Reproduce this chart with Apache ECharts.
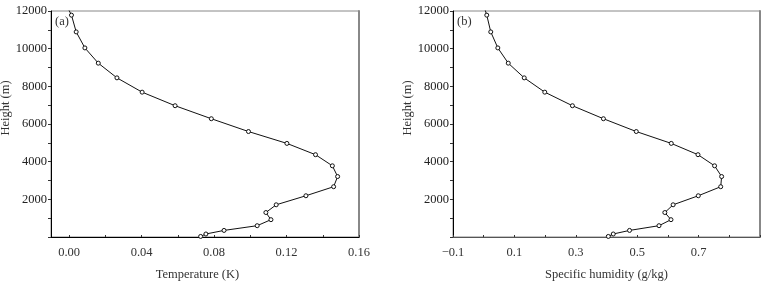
<!DOCTYPE html>
<html>
<head>
<meta charset="utf-8">
<script src="https://cdn.jsdelivr.net/npm/echarts@6/dist/echarts.min.js"></script>
<style>html,body{margin:0;padding:0;background:#fff}#c{width:764px;height:282px}</style>
</head>
<body>
<div id="c"></div>
<script>
// Heights of model levels (m)
var heightsA = [30, 160, 350, 600, 920, 1300, 1710, 2190, 2670, 3210, 3780, 4370, 4970, 5600, 6280, 6970, 7690, 8450, 9230, 10040, 10890, 11780, 12600];
var temperature = [0.0726, 0.0755, 0.0855, 0.1038, 0.1114, 0.1086, 0.1143, 0.1307, 0.1460, 0.1482, 0.1453, 0.1360, 0.1202, 0.0990, 0.0785, 0.0585, 0.0403, 0.0264, 0.0161, 0.0087, 0.0039, 0.0013, -0.003];
var heightsB = [30, 160, 350, 600, 920, 1300, 1710, 2190, 2670, 3210, 3780, 4370, 4970, 5600, 6280, 6970, 7690, 8450, 9230, 10040, 10890, 11780, 12600];
var humidity = [0.406, 0.422, 0.475, 0.571, 0.610, 0.590, 0.617, 0.699, 0.772, 0.775, 0.752, 0.698, 0.611, 0.497, 0.390, 0.289, 0.199, 0.132, 0.080, 0.046, 0.023, 0.010, -0.006];
var yTicks = [0, 1000, 2000, 3000, 4000, 5000, 6000, 7000, 8000, 9000, 10000, 11000, 12000];
var yLabels = [2000, 4000, 6000, 8000, 10000, 12000];
var xTicksA = [0, 0.02, 0.04, 0.06, 0.08, 0.10, 0.12, 0.14, 0.16];
var xLabelsA = [0, 0.04, 0.08, 0.12, 0.16];
var xTicksB = [-0.1, 0, 0.1, 0.2, 0.3, 0.4, 0.5, 0.6, 0.7, 0.8, 0.9];
var xLabelsB = [-0.1, 0.1, 0.3, 0.5, 0.7];
var panelLabels = ['(a)', '(b)'];
var xNames = ['Temperature (K)', 'Specific humidity (g/kg)'];
var yName = 'Height (m)';

var FONT = '"Liberation Serif", "DejaVu Serif", serif';
var chart = echarts.init(document.getElementById('c'));

function pairs(xs, ys) { return xs.map(function (v, i) { return [v, ys[i]]; }); }

function yAxisFor(idx) {
  return {
    type: 'value', gridIndex: idx, min: 0, max: 12000,
    name: yName, nameLocation: 'middle', nameGap: idx === 0 ? 36 : 37,
    nameTextStyle: { fontFamily: FONT, fontSize: 12.5, color: '#333', padding: [0, 0, 0, 32] },
    axisLine: { show: true, onZero: false, lineStyle: { color: '#000', width: 1 } },
    axisTick: { show: true, inside: false, length: 3, lineStyle: { color: '#333' }, customValues: yTicks },
    axisLabel: { fontFamily: FONT, fontSize: 12.5, color: '#222', margin: 4, customValues: yLabels,
      formatter: function (v) { return String(v); } },
    splitLine: { show: false }
  };
}
function rightBorder(idx) {
  return {
    type: 'value', gridIndex: idx, position: 'right', min: 0, max: 12000,
    axisLine: { show: true, onZero: false, lineStyle: { color: '#888', width: 2 } },
    axisTick: { show: false }, axisLabel: { show: false }, splitLine: { show: false }
  };
}

var option = {
  animation: false,
  backgroundColor: '#fff',
  grid: [
    { left: 51, right: 405, top: 11, bottom: 45, show: true, borderColor: '#888', borderWidth: 1, backgroundColor: 'transparent', containLabel: false, outerBoundsMode: 'none' },
    { left: 453, right: 4, top: 11, bottom: 45, show: true, borderColor: '#888', borderWidth: 1, backgroundColor: 'transparent', containLabel: false, outerBoundsMode: 'none' }
  ],
  xAxis: [
    {
      type: 'value', gridIndex: 0, min: -0.01, max: 0.16,
      name: xNames[0], nameLocation: 'middle', nameGap: 31,
      nameTextStyle: { fontFamily: FONT, fontSize: 12.5, color: '#333', padding: [0, 15, 0, 0] },
      axisLine: { show: true, onZero: false, lineStyle: { color: '#000', width: 1 } },
      axisTick: { show: true, inside: true, length: 2, lineStyle: { color: '#333' }, customValues: xTicksA },
      axisLabel: { fontFamily: FONT, fontSize: 12.5, color: '#333', margin: 9, customValues: xLabelsA,
        formatter: function (v) { return v.toFixed(2); } },
      splitLine: { show: false }
    },
    {
      type: 'value', gridIndex: 1, min: -0.1, max: 0.9,
      name: xNames[1], nameLocation: 'middle', nameGap: 31,
      nameTextStyle: { fontFamily: FONT, fontSize: 12.5, color: '#333' },
      axisLine: { show: true, onZero: false, lineStyle: { color: '#555', width: 1 } },
      axisTick: { show: true, inside: true, length: 2, lineStyle: { color: '#333' }, customValues: xTicksB },
      axisLabel: { fontFamily: FONT, fontSize: 12.5, color: '#333', margin: 9, customValues: xLabelsB,
        formatter: function (v) { return (v < 0 ? '\u2212' : '') + Math.abs(v).toFixed(1); } },
      splitLine: { show: false }
    }
  ],
  yAxis: [yAxisFor(0), yAxisFor(1), rightBorder(0), rightBorder(1)],
  series: [
    {
      type: 'line', xAxisIndex: 0, yAxisIndex: 0, data: pairs(temperature, heightsA),
      clip: true, symbol: 'circle', symbolSize: 4, showAllSymbol: true,
      lineStyle: { color: '#111', width: 1 },
      itemStyle: { color: '#fff', borderColor: '#111', borderWidth: 1 }
    },
    {
      type: 'line', xAxisIndex: 1, yAxisIndex: 1, data: pairs(humidity, heightsB),
      clip: true, symbol: 'circle', symbolSize: 4, showAllSymbol: true,
      lineStyle: { color: '#111', width: 1 },
      itemStyle: { color: '#fff', borderColor: '#111', borderWidth: 1 }
    }
  ],
  graphic: [
    { type: 'text', left: 55, top: 15, style: { text: panelLabels[0], font: '12.5px ' + FONT, fill: '#333' } },
    { type: 'text', left: 457, top: 15, style: { text: panelLabels[1], font: '12.5px ' + FONT, fill: '#333' } }
  ]
};
chart.setOption(option);
</script>
</body>
</html>
